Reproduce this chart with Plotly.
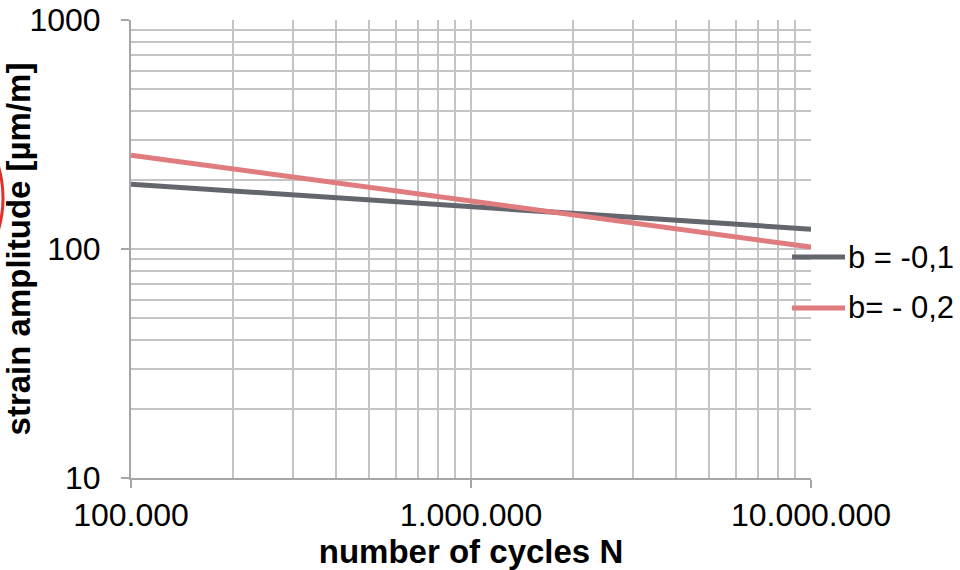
import plotly.graph_objects as go

# Fatigue curves: strain amplitude vs. number of cycles (log-log)
cycles = [1e5, 1e7]
strain_b01 = [192, 122]   # b = -0,1
strain_b02 = [257, 102]   # b = -0,2
series_names = ["b = -0,1", "b= - 0,2"]
series_colors = ["#63676d", "#e07b7e"]

x_tickvals = [1e5, 1e6, 1e7]
x_ticktext = ["100.000", "1.000.000", "10.000.000"]
y_tickvals = [10, 100, 1000]
y_ticktext = ["10", "100", "1000"]

FONT = "Liberation Sans, Arial, sans-serif"
GRID = "#c4c4c4"
AXIS = "#a6a6a6"

fig = go.Figure()
for ys, name, color in zip([strain_b01, strain_b02], series_names, series_colors):
    fig.add_trace(go.Scatter(
        x=cycles, y=ys, mode="lines", name=name,
        line=dict(color=color, width=5),
    ))

axis_common = dict(
    type="log",
    automargin=False,
    showgrid=True, gridcolor=GRID, gridwidth=1.5,
    showline=True, linecolor=AXIS, linewidth=2,
    ticks="outside", ticklen=8, tickcolor=AXIS, tickwidth=2,
    tickfont=dict(family=FONT, size=32, color="#000000"),
    minor=dict(dtick="D1", showgrid=True, gridcolor=GRID, gridwidth=1.5, ticks=""),
    zeroline=False,
)

fig.update_xaxes(
    range=[5, 7], tickvals=x_tickvals, ticktext=x_ticktext,
    title=dict(text="<b>number of cycles N</b>", standoff=0,
               font=dict(family=FONT, size=33, color="#000000")),
    **axis_common,
)
fig.update_yaxes(
    range=[1, 3], tickvals=y_tickvals, ticktext=y_ticktext,
    ticklabelstandoff=14,
    title=dict(text="<b>strain amplitude [µm/m]</b>", standoff=6,
               font=dict(family=FONT, size=33, color="#000000")),
    **axis_common,
)

# red ring mostly outside the figure, only its right edge shows
fig.add_shape(type="circle", xref="paper", yref="paper",
              x0=-0.5206, x1=-0.1882, y0=0.3646, y1=0.858,
              line=dict(color="#e0302a", width=3), layer="below")

# legend drawn to the right of the plot area
legend_y = [0.4825, 0.3712]
for name, color, ly in zip(series_names, series_colors, legend_y):
    fig.add_shape(type="line", xref="paper", yref="paper",
                  x0=0.972, x1=1.05, y0=ly, y1=ly,
                  line=dict(color=color, width=5))
    fig.add_annotation(xref="paper", yref="paper", x=1.051, y=ly,
                       xanchor="left", yanchor="middle", showarrow=False,
                       text=name, font=dict(family=FONT, size=31, color="#000000"))

fig.update_layout(
    width=960, height=570,
    margin=dict(l=131, r=149, t=20, b=92),
    paper_bgcolor="white", plot_bgcolor="white",
    showlegend=False,
)

fig.write_html("out.html")
